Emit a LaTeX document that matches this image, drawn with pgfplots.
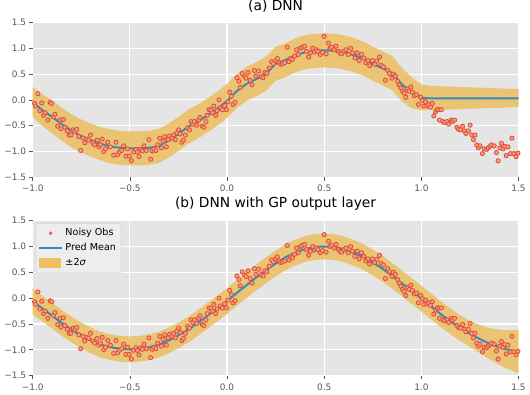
\documentclass[border=0pt]{standalone}
\usepackage{fontspec}
\setmainfont{DejaVu Sans}
\usepackage{pgfplots}
\pgfplotsset{compat=1.18}
\usepackage{pgfplotstable}
\usepgfplotslibrary{fillbetween}

\definecolor{bgc}{RGB}{229,229,229}
\definecolor{obsred}{RGB}{226,74,51}
\definecolor{obsfill}{RGB}{242,160,130}
\definecolor{meanblue}{RGB}{52,138,189}
\definecolor{bandc}{RGB}{236,191,96}
\definecolor{tickgray}{RGB}{85,85,85}

% noisy observations (shared by both panels)
\pgfplotstableread{
x y
-0.990 -0.07
-0.986 -0.12
-0.973 0.12
-0.964 -0.21
-0.953 -0.06
-0.944 -0.30
-0.936 -0.25
-0.922 -0.39
-0.910 -0.05
-0.902 -0.07
-0.893 -0.33
-0.885 -0.28
-0.871 -0.51
-0.859 -0.39
-0.854 -0.56
-0.842 -0.38
-0.834 -0.53
-0.822 -0.60
-0.812 -0.68
-0.803 -0.68
-0.792 -0.58
-0.783 -0.61
-0.773 -0.57
-0.763 -0.71
-0.753 -0.98
-0.741 -0.74
-0.732 -0.83
-0.722 -0.76
-0.712 -0.78
-0.702 -0.68
-0.690 -0.83
-0.681 -0.87
-0.668 -0.78
-0.659 -0.91
-0.651 -0.87
-0.642 -0.76
-0.634 -1.00
-0.625 -0.95
-0.614 -0.82
-0.600 -0.91
-0.583 -1.07
-0.571 -0.82
-0.563 -1.06
-0.554 -1.01
-0.542 -0.98
-0.532 -0.89
-0.520 -1.09
-0.512 -0.95
-0.503 -1.09
-0.492 -1.18
-0.481 -1.01
-0.469 -0.96
-0.461 -1.01
-0.453 -1.10
-0.444 -0.96
-0.436 -0.99
-0.427 -0.89
-0.415 -0.98
-0.402 -0.77
-0.393 -1.15
-0.385 -0.99
-0.376 -0.95
-0.366 -0.98
-0.356 -0.87
-0.346 -0.74
-0.337 -0.93
-0.329 -0.80
-0.320 -0.71
-0.312 -0.91
-0.303 -0.77
-0.295 -0.70
-0.283 -0.74
-0.275 -0.68
-0.266 -0.77
-0.258 -0.64
-0.249 -0.58
-0.241 -0.66
-0.232 -0.82
-0.224 -0.78
-0.214 -0.68
-0.203 -0.55
-0.193 -0.58
-0.185 -0.42
-0.176 -0.47
-0.168 -0.42
-0.156 -0.49
-0.146 -0.39
-0.139 -0.34
-0.127 -0.51
-0.119 -0.53
-0.108 -0.42
-0.102 -0.30
-0.092 -0.19
-0.083 -0.20
-0.075 -0.25
-0.068 -0.12
-0.058 -0.30
-0.051 -0.21
-0.041 0.00
-0.034 -0.15
-0.024 -0.19
-0.012 -0.11
-0.003 -0.19
0.005 -0.04
0.014 0.15
0.022 0.07
0.031 -0.09
0.041 -0.05
0.051 0.43
0.061 0.36
0.068 0.24
0.078 0.51
0.090 0.45
0.098 0.42
0.108 0.53
0.119 0.38
0.129 0.29
0.141 0.57
0.149 0.46
0.163 0.56
0.175 0.45
0.186 0.43
0.195 0.53
0.205 0.51
0.217 0.62
0.229 0.74
0.239 0.70
0.251 0.76
0.259 0.80
0.268 0.72
0.276 0.69
0.285 0.70
0.297 0.72
0.310 1.02
0.319 0.74
0.327 0.80
0.336 0.78
0.348 0.85
0.358 0.97
0.367 0.88
0.378 1.00
0.387 1.02
0.399 1.04
0.408 0.94
0.420 0.83
0.429 0.91
0.441 1.00
0.449 0.93
0.459 0.97
0.468 0.94
0.480 0.88
0.491 0.92
0.500 1.23
0.510 0.89
0.522 1.10
0.530 1.00
0.539 1.02
0.551 0.97
0.561 1.04
0.573 0.94
0.581 0.91
0.590 0.89
0.602 0.94
0.612 0.97
0.624 0.88
0.636 1.00
0.646 0.91
0.658 0.81
0.670 0.91
0.680 0.76
0.692 0.88
0.704 0.81
0.714 0.72
0.726 0.76
0.734 0.66
0.748 0.76
0.760 0.69
0.771 0.75
0.785 0.83
0.793 0.67
0.805 0.64
0.815 0.38
0.827 0.57
0.836 0.51
0.849 0.42
0.856 0.50
0.866 0.46
0.878 0.36
0.886 0.29
0.895 0.23
0.903 0.17
0.912 0.13
0.920 0.05
0.929 0.21
0.937 0.17
0.946 0.25
0.954 0.15
0.963 0.08
0.975 0.10
0.985 -0.09
0.996 0.05
1.005 -0.01
1.013 -0.12
1.022 -0.04
1.030 -0.11
1.039 -0.09
1.047 -0.14
1.056 -0.07
1.064 -0.31
1.073 -0.23
1.081 -0.19
1.090 -0.19
1.093 -0.39
1.103 -0.19
1.110 -0.42
1.120 -0.44
1.132 -0.42
1.141 -0.47
1.154 -0.39
1.161 -0.42
1.171 -0.39
1.183 -0.53
1.191 -0.57
1.202 -0.58
1.212 -0.51
1.222 -0.60
1.229 -0.65
1.242 -0.60
1.251 -0.49
1.259 -0.68
1.268 -0.77
1.276 -0.68
1.285 -0.87
1.293 -0.93
1.302 -0.89
1.314 -1.04
1.324 -0.95
1.336 -0.96
1.344 -0.93
1.353 -0.90
1.361 -0.87
1.375 -0.89
1.386 -1.02
1.395 -1.18
1.404 -0.93
1.412 -0.84
1.420 -0.95
1.429 -0.90
1.437 -1.08
1.446 -0.91
1.459 -1.04
1.466 -0.74
1.476 -1.04
1.488 -1.10
1.497 -1.03
}\obs

% (a) DNN: mean and +-2 sigma band
\pgfplotstableread{
x m lo hi
-1.00 -0.04 -0.33 0.25
-0.95 -0.20 -0.51 0.11
-0.90 -0.33 -0.65 -0.01
-0.85 -0.47 -0.79 -0.15
-0.80 -0.60 -0.92 -0.28
-0.75 -0.70 -1.02 -0.38
-0.70 -0.78 -1.10 -0.46
-0.65 -0.85 -1.17 -0.53
-0.60 -0.90 -1.23 -0.57
-0.55 -0.93 -1.26 -0.60
-0.50 -0.94 -1.27 -0.61
-0.45 -0.94 -1.27 -0.61
-0.40 -0.93 -1.26 -0.60
-0.35 -0.89 -1.22 -0.56
-0.30 -0.79 -1.12 -0.46
-0.25 -0.66 -0.99 -0.33
-0.20 -0.52 -0.85 -0.19
-0.15 -0.42 -0.75 -0.09
-0.10 -0.30 -0.63 0.03
-0.05 -0.17 -0.50 0.16
0.00 -0.02 -0.35 0.31
0.05 0.17 -0.16 0.50
0.10 0.31 -0.02 0.64
0.15 0.40 0.07 0.73
0.20 0.50 0.17 0.83
0.25 0.70 0.37 1.03
0.30 0.77 0.44 1.10
0.35 0.86 0.53 1.19
0.40 0.92 0.59 1.25
0.45 0.95 0.62 1.28
0.50 0.96 0.63 1.29
0.55 0.95 0.62 1.28
0.60 0.92 0.59 1.25
0.65 0.87 0.54 1.20
0.70 0.80 0.47 1.13
0.75 0.70 0.37 1.03
0.80 0.61 0.28 0.94
0.85 0.52 0.19 0.85
0.90 0.30 -0.03 0.62
0.95 0.14 -0.16 0.44
1.00 0.04 -0.20 0.30
1.05 0.03 -0.20 0.27
1.50 0.03 -0.14 0.21
}\banda

% (b) DNN with GP output layer
\pgfplotstableread{
x m lo hi
-1.00 -0.06 -0.31 0.19
-0.95 -0.20 -0.45 0.05
-0.90 -0.34 -0.59 -0.09
-0.85 -0.48 -0.73 -0.23
-0.80 -0.61 -0.86 -0.36
-0.75 -0.72 -0.97 -0.47
-0.70 -0.82 -1.07 -0.57
-0.65 -0.90 -1.15 -0.65
-0.60 -0.95 -1.20 -0.70
-0.55 -0.98 -1.23 -0.73
-0.50 -0.99 -1.24 -0.74
-0.45 -0.98 -1.23 -0.73
-0.40 -0.95 -1.20 -0.70
-0.35 -0.90 -1.15 -0.65
-0.30 -0.82 -1.07 -0.57
-0.25 -0.72 -0.97 -0.47
-0.20 -0.61 -0.86 -0.36
-0.15 -0.48 -0.73 -0.23
-0.10 -0.34 -0.59 -0.09
-0.05 -0.20 -0.45 0.05
0.00 -0.06 -0.31 0.19
0.05 0.10 -0.15 0.35
0.10 0.25 0.00 0.50
0.15 0.40 0.15 0.65
0.20 0.54 0.29 0.79
0.25 0.67 0.42 0.92
0.30 0.79 0.54 1.04
0.35 0.88 0.63 1.13
0.40 0.95 0.70 1.20
0.45 0.99 0.74 1.24
0.50 1.00 0.75 1.25
0.55 0.99 0.74 1.24
0.60 0.95 0.70 1.20
0.65 0.88 0.63 1.13
0.70 0.80 0.55 1.05
0.75 0.69 0.44 0.94
0.80 0.57 0.32 0.82
0.85 0.43 0.18 0.68
0.90 0.29 0.04 0.54
0.95 0.14 -0.11 0.39
1.00 -0.01 -0.26 0.24
1.05 -0.16 -0.41 0.09
1.10 -0.31 -0.56 -0.06
1.15 -0.45 -0.70 -0.20
1.20 -0.58 -0.83 -0.33
1.25 -0.69 -0.94 -0.44
1.30 -0.79 -1.06 -0.52
1.35 -0.88 -1.18 -0.58
1.40 -0.95 -1.29 -0.61
1.45 -1.00 -1.38 -0.62
1.50 -1.04 -1.46 -0.62
}\bandb

\pgfplotsset{ggstyle/.style={
  scale only axis, width=370pt, height=118pt,
  xmin=-1, xmax=1.5, ymin=-1.5, ymax=1.5,
  xtick={-1,-0.5,0,0.5,1,1.5},
  xticklabels={−1.0,−0.5,0.0,0.5,1.0,1.5},
  ytick={-1.5,-1,-0.5,0,0.5,1,1.5},
  yticklabels={−1.5,−1.0,−0.5,0.0,0.5,1.0,1.5},
  axis background/.style={fill=bgc},
  grid=major, major grid style={white, line width=0.8pt},
  axis x line*=bottom, axis y line*=left, axis line style={draw=none},
  tick align=outside, major tick length=2.5pt,
  tick style={tickgray, line width=0.5pt},
  ticklabel style={font=\fontsize{6.8}{8}\selectfont, text=tickgray},
  yticklabel style={xshift=1pt},
  title style={font=\fontsize{10.5}{12}\selectfont, at={(0.5,1)}, anchor=south, yshift=1.5pt, inner sep=0pt},
}}

\begin{document}
\begin{tikzpicture}
\begin{axis}[ggstyle, at={(0,0)}, anchor=north west, title={(a) DNN}]
\addplot[name path=ahi, draw=none, forget plot] table[x=x, y=hi]{\banda};
\addplot[name path=alo, draw=none, forget plot] table[x=x, y=lo]{\banda};
\addplot[fill=bandc, fill opacity=0.85, draw=none, forget plot] fill between[of=ahi and alo];
\addplot[only marks, mark=*, mark size=1.6pt, mark options={draw=obsred, fill=obsfill, line width=0.6pt}, forget plot] table[x=x, y=y]{\obs};
\addplot[meanblue, line width=1.5pt, forget plot] table[x=x, y=m]{\banda};
\end{axis}

\begin{axis}[ggstyle, at={(0,-151pt)}, anchor=north west, title={(b) DNN with GP output layer},
  legend style={at={(0.006,0.985)}, anchor=north west, font=\fontsize{7.3}{9}\selectfont,
    fill={rgb,255:red,237;green,237;blue,237}, draw={rgb,255:red,205;green,205;blue,205},
    rounded corners=2pt, inner sep=2pt, row sep=0.5pt},
  legend cell align=left]
\addplot[name path=bhi, draw=none, forget plot] table[x=x, y=hi]{\bandb};
\addplot[name path=blo, draw=none, forget plot] table[x=x, y=lo]{\bandb};
\addplot[fill=bandc, fill opacity=0.85, draw=none, forget plot] fill between[of=bhi and blo];
\addplot[only marks, mark=*, mark size=1.6pt, mark options={draw=obsred, fill=obsfill, line width=0.6pt}, forget plot] table[x=x, y=y]{\obs};
\addplot[meanblue, line width=1.5pt, forget plot] table[x=x, y=m]{\bandb};
\addlegendimage{only marks, mark=*, mark size=1pt, mark options={draw=obsred, fill=obsfill, line width=0.5pt}}
\addlegendentry{Noisy Obs}
\addlegendimage{meanblue, line width=1.5pt}
\addlegendentry{Pred Mean}
\addlegendimage{legend image code/.code={\fill[bandc, sharp corners] (0cm,-0.1cm) rectangle (0.55cm,0.13cm);}}
\addlegendentry{±2\textit{σ}}
\end{axis}
\end{tikzpicture}
\end{document}
